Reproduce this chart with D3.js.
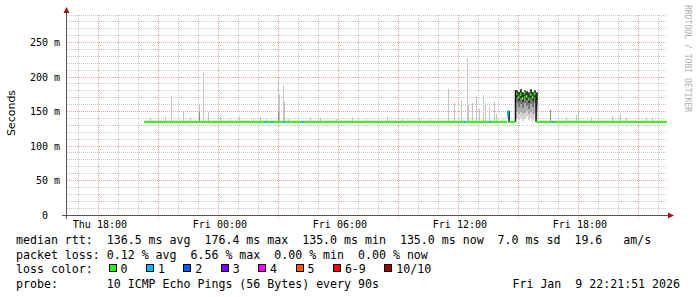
<!DOCTYPE html>
<html><head><meta charset="utf-8">
<script src="https://cdn.jsdelivr.net/npm/d3@7"></script>
<style>body{margin:0;background:#fff}svg{display:block}</style>
</head><body><svg id="c" width="697" height="297"></svg>
<script>
// ---------- data (hours counted from Thu 00:00) ----------
const yTickValues = [0, 50, 100, 150, 200, 250];
const yTickLabels = ["0\u00a0\u00a0", "50 m", "100 m", "150 m", "200 m", "250 m"];
const lossLabels = ["0", "1", "2", "3", "4", "5", "6-9", "10/10"];
const lossColors = ["#26ff00", "#00b8ff", "#0059ff", "#7e00ff", "#ff00ff", "#ff5500", "#ff0000", "#a10000"];
// median rtt segments: [startHour, endHour, ms, lossIndex]
const medianSegs = [
  [20.28, 38.43, 135, 0],
  [38.43, 38.53, 150, 1],
  [38.53, 38.85, 135, 0],
  [39.88, 46.425, 135, 0]
];
// single loss marks on the median line: [hour, lossIndex]
const lossMarks = [[26.33, 1], [26.66, 1], [27.29, 1], [28.23, 1], [36.31, 1], [37.58, 1], [40.71, 1]];
// smoke spikes: [hour, max ms, darker ms or 0]
const spikes = [
  [20.6, 140, 0], [21.0, 139, 0], [21.33, 142, 0], [21.66, 172, 0], [22.24, 150, 0], [22.6, 140, 0],
  [23.04, 159, 150], [23.24, 207, 0], [23.49, 150, 0], [24.08, 142, 0], [24.6, 139, 0],
  [25.03, 142, 0], [25.73, 141, 0], [26.08, 142, 0], [26.4, 139, 0],
  [26.98, 199, 150], [27.03, 175, 0], [27.24, 188, 0], [27.29, 164, 0], [27.5, 139, 0],
  [28.58, 140, 0], [29.08, 141, 0], [29.9, 139, 0], [30.68, 141, 0], [31.4, 139, 0], [32.43, 142, 0], [33.2, 139, 0],
  [34.03, 141, 0], [34.6, 139, 0], [35.49, 183, 0], [35.81, 162, 0], [36.14, 165, 0], [36.44, 228, 0],
  [36.49, 159, 0], [36.69, 163, 0], [36.91, 173, 0], [37.06, 154, 0], [37.24, 174, 0], [37.36, 162, 0],
  [37.53, 157, 0], [37.78, 164, 0], [37.91, 147, 0], [38.2, 139, 0],
  [40.59, 152, 152], [41.38, 140, 0], [41.88, 145, 0], [42.01, 150, 0], [42.63, 142, 0],
  [43.68, 144, 0], [44.08, 147, 0], [44.38, 141, 0], [45.38, 140, 0], [45.71, 141, 0]
];
// high-latency block
const blockHours  = [38.85, 38.95, 39.05, 39.15, 39.25, 39.35, 39.45, 39.55, 39.65, 39.75, 39.85];
const blockMedian = [176, 171, 175, 169, 177, 172, 168, 175, 171, 176, 172];
const blockHigh   = [181, 179, 182, 178, 181, 180, 178, 182, 179, 181, 178];
const blockLow    = [140, 138, 141, 137, 139, 142, 138, 140, 137, 139, 141];
const statLines = [
  "median rtt:  136.5 ms avg  176.4 ms max  135.0 ms min  135.0 ms now  7.0 ms sd  19.6   am/s",
  "packet loss: 0.12 % avg  6.56 % max  0.00 % min  0.00 % now",
  "loss color:",
  "probe:       10 ICMP Echo Pings (56 Bytes) every 90s"
];
const stampText = "Fri Jan  9 22:21:51 2026";
const yLabel = "Seconds";
const watermark = "RRDTOOL / TOBI OETIKER";

// ---------- drawing ----------
const T0 = new Date(2026, 0, 8, 0, 0, 0).getTime();
const hd = h => new Date(T0 + h * 3600e3);
const x = d3.scaleTime().domain([hd(16.425), hd(46.425)]).range([67, 667]);
const y = d3.scaleLinear().domain([0, 290]).range([215, 15]);
const svg = d3.select("#c");
const mono = "DejaVu Sans Mono, monospace";
const px = v => Math.round(v - 0.5) + 0.5;

// grid
const g = svg.append("g").attr("shape-rendering", "crispEdges");
const hMinor = d3.range(10, 291, 10).filter(v => v % 50 !== 0);
g.selectAll(".hm").data(hMinor).join("line")
  .attr("x1", 67).attr("x2", 667).attr("y1", d => px(y(d))).attr("y2", d => px(y(d)))
  .attr("stroke", "#c8c8c8").attr("stroke-dasharray", "1,1");
const vAll = x.ticks(d3.timeHour.every(1));
const vMajor = vAll.filter(d => d.getHours() % 3 === 0);
const vMinor = vAll.filter(d => d.getHours() % 3 !== 0);
g.selectAll(".vm").data(vMinor).join("line")
  .attr("x1", d => px(x(d))).attr("x2", d => px(x(d))).attr("y1", 15).attr("y2", 215)
  .attr("stroke", "#c8c8c8").attr("stroke-dasharray", "1,1");
g.selectAll(".hM").data([50, 100, 150, 200, 250]).join("line")
  .attr("x1", 67).attr("x2", 667).attr("y1", d => px(y(d))).attr("y2", d => px(y(d)))
  .attr("stroke", "#e6a0a0").attr("stroke-dasharray", "1,1");
g.selectAll(".vM").data(vMajor).join("line")
  .attr("x1", d => px(x(d))).attr("x2", d => px(x(d))).attr("y1", 15).attr("y2", 219)
  .attr("stroke", "#e6a0a0").attr("stroke-dasharray", "1,1");

// smoke spikes
const s = svg.append("g").attr("shape-rendering", "crispEdges");
s.selectAll(".sp").data(spikes).join("rect")
  .attr("x", d => Math.round(x(hd(d[0])) - 0.5)).attr("width", 1)
  .attr("y", d => y(d[1])).attr("height", d => y(135) - y(d[1]))
  .attr("fill", "#c4c4c4");
s.selectAll(".spd").data(spikes.filter(d => d[2] > 0)).join("rect")
  .attr("x", d => Math.round(x(hd(d[0])) - 0.5)).attr("width", 1)
  .attr("y", d => y(d[2])).attr("height", d => y(135) - y(d[2]))
  .attr("fill", "#8c8c8c");

// block smoke (light outer, mid, dark core)
const bw = x(hd(0.1)) - x(hd(0));
const bi = d3.range(blockHours.length);
const bx0 = i => x(hd(blockHours[i]));
s.selectAll(".bl").data(bi).join("rect")
  .attr("x", bx0).attr("width", bw + 0.3)
  .attr("y", i => y(blockHigh[i])).attr("height", i => y(blockLow[i]) - y(blockHigh[i]))
  .attr("fill", "#d4d4d4");
s.selectAll(".bm").data(bi).join("rect")
  .attr("x", bx0).attr("width", bw + 0.3)
  .attr("y", i => y(blockHigh[i])).attr("height", i => y(blockLow[i] + 9) - y(blockHigh[i]))
  .attr("fill", "#acacac");
s.selectAll(".bm2").data(bi).join("rect")
  .attr("x", bx0).attr("width", bw + 0.3)
  .attr("y", i => y(blockHigh[i])).attr("height", i => y(blockMedian[i] - 14) - y(blockHigh[i]))
  .attr("fill", "#7a7a7a");
s.selectAll(".bd").data(bi).join("rect")
  .attr("x", bx0).attr("width", bw + 0.3)
  .attr("y", i => y(blockHigh[i] - 1)).attr("height", i => y(blockMedian[i] - 5) - y(blockHigh[i] - 1))
  .attr("fill", "#333");
// block median marks
svg.selectAll(".bg").data(bi).join("rect")
  .attr("x", i => bx0(i) + 0.3).attr("width", 1.6)
  .attr("y", i => y(blockMedian[i]) - 1.5).attr("height", 3)
  .attr("fill", lossColors[0]);
// block edges and loss step
const edges = [[38.85, 135, blockHigh[0]], [39.88, blockMedian[blockMedian.length - 1] + 2, 135], [38.53, 151, 134]];
svg.selectAll(".ed").data(edges).join("line")
  .attr("x1", d => x(hd(d[0]))).attr("x2", d => x(hd(d[0])))
  .attr("y1", d => y(d[1])).attr("y2", d => y(d[2]))
  .attr("stroke", "#111").attr("stroke-width", 1.5);

// median line
svg.selectAll(".md").data(medianSegs).join("rect")
  .attr("x", d => x(hd(d[0]))).attr("width", d => x(hd(d[1])) - x(hd(d[0])))
  .attr("y", d => y(d[2]) - 1).attr("height", 2)
  .attr("fill", d => lossColors[d[3]]);
svg.append("rect").attr("x", x(hd(38.43))).attr("width", 1.5)
  .attr("y", y(151)).attr("height", y(141) - y(151)).attr("fill", lossColors[1]);
svg.selectAll(".lm").data(lossMarks).join("rect")
  .attr("x", d => x(hd(d[0])) - 1).attr("width", 2)
  .attr("y", y(135) - 1).attr("height", 2)
  .attr("fill", d => lossColors[d[1]]);

// axes
const ax = svg.append("g").attr("shape-rendering", "crispEdges");
ax.append("line").attr("x1", 66.5).attr("x2", 66.5).attr("y1", 219).attr("y2", 12).attr("stroke", "#555");
ax.append("line").attr("x1", 62).attr("x2", 670).attr("y1", 215.5).attr("y2", 215.5).attr("stroke", "#555");
svg.append("path").attr("d", "M63.5,13 L66.5,7 L69.5,13 Z").attr("fill", "#a01414");
svg.append("path").attr("d", "M668,212.5 L674,215.5 L668,218.5 Z").attr("fill", "#a01414");

const yAxis = svg.append("g").attr("transform", "translate(67,0)")
  .call(d3.axisLeft(y).tickValues(yTickValues).tickFormat((d, i) => yTickLabels[i]).tickSize(0).tickPadding(7));
yAxis.select(".domain").remove();
yAxis.selectAll("text").attr("font-family", mono).attr("font-size", 10).attr("fill", "#000").attr("dy", "0.34em");

const xAxis = svg.append("g").attr("transform", "translate(0,215)")
  .call(d3.axisBottom(x).ticks(d3.timeHour.every(6)).tickFormat(d3.timeFormat("%a %H:%M")).tickSize(0).tickPadding(5.5));
xAxis.select(".domain").remove();
xAxis.selectAll("text").attr("font-family", mono).attr("font-size", 10).attr("fill", "#000").attr("dx", "0.9");

// y label
svg.append("text").attr("transform", "translate(15,113) rotate(-90)")
  .attr("text-anchor", "middle").attr("font-family", "DejaVu Sans, sans-serif").attr("font-size", 11)
  .attr("fill", "#000").text(yLabel);

// watermark
svg.append("text").attr("transform", "translate(684.5,5) rotate(90)")
  .attr("font-family", mono).attr("font-size", 8.1).attr("fill", "#b0b0b0").text(watermark);

// legend
const baselines = [244, 258.6, 273.2, 287.8];
svg.selectAll(".lg").data(statLines).join("text")
  .attr("x", 16).attr("y", (d, i) => baselines[i])
  .attr("xml:space", "preserve").style("white-space", "pre")
  .attr("font-family", mono).attr("font-size", 11.6).attr("fill", "#000").text(d => d);
svg.append("text").attr("x", 680).attr("y", baselines[3]).attr("text-anchor", "end")
  .attr("xml:space", "preserve").style("white-space", "pre")
  .attr("font-family", mono).attr("font-size", 11.6).attr("fill", "#000").text(stampText);
const cw = 6.98;
let bx = 108.5;
const boxPos = lossLabels.map(l => { const p = bx; bx += (l.length + 4) * cw + 2.5; return p; });
const lg = svg.append("g").attr("shape-rendering", "crispEdges");
lg.selectAll("rect").data(lossLabels).join("rect")
  .attr("x", (d, i) => Math.round(boxPos[i]) + 0.5).attr("y", 264.5).attr("width", 7).attr("height", 7)
  .attr("fill", (d, i) => lossColors[i]).attr("stroke", "#000").attr("stroke-width", 1);
svg.selectAll(".ll").data(lossLabels).join("text")
  .attr("x", (d, i) => boxPos[i] + 12).attr("y", baselines[2])
  .attr("font-family", mono).attr("font-size", 11.6).attr("fill", "#000").text(d => d);
</script></body></html>
